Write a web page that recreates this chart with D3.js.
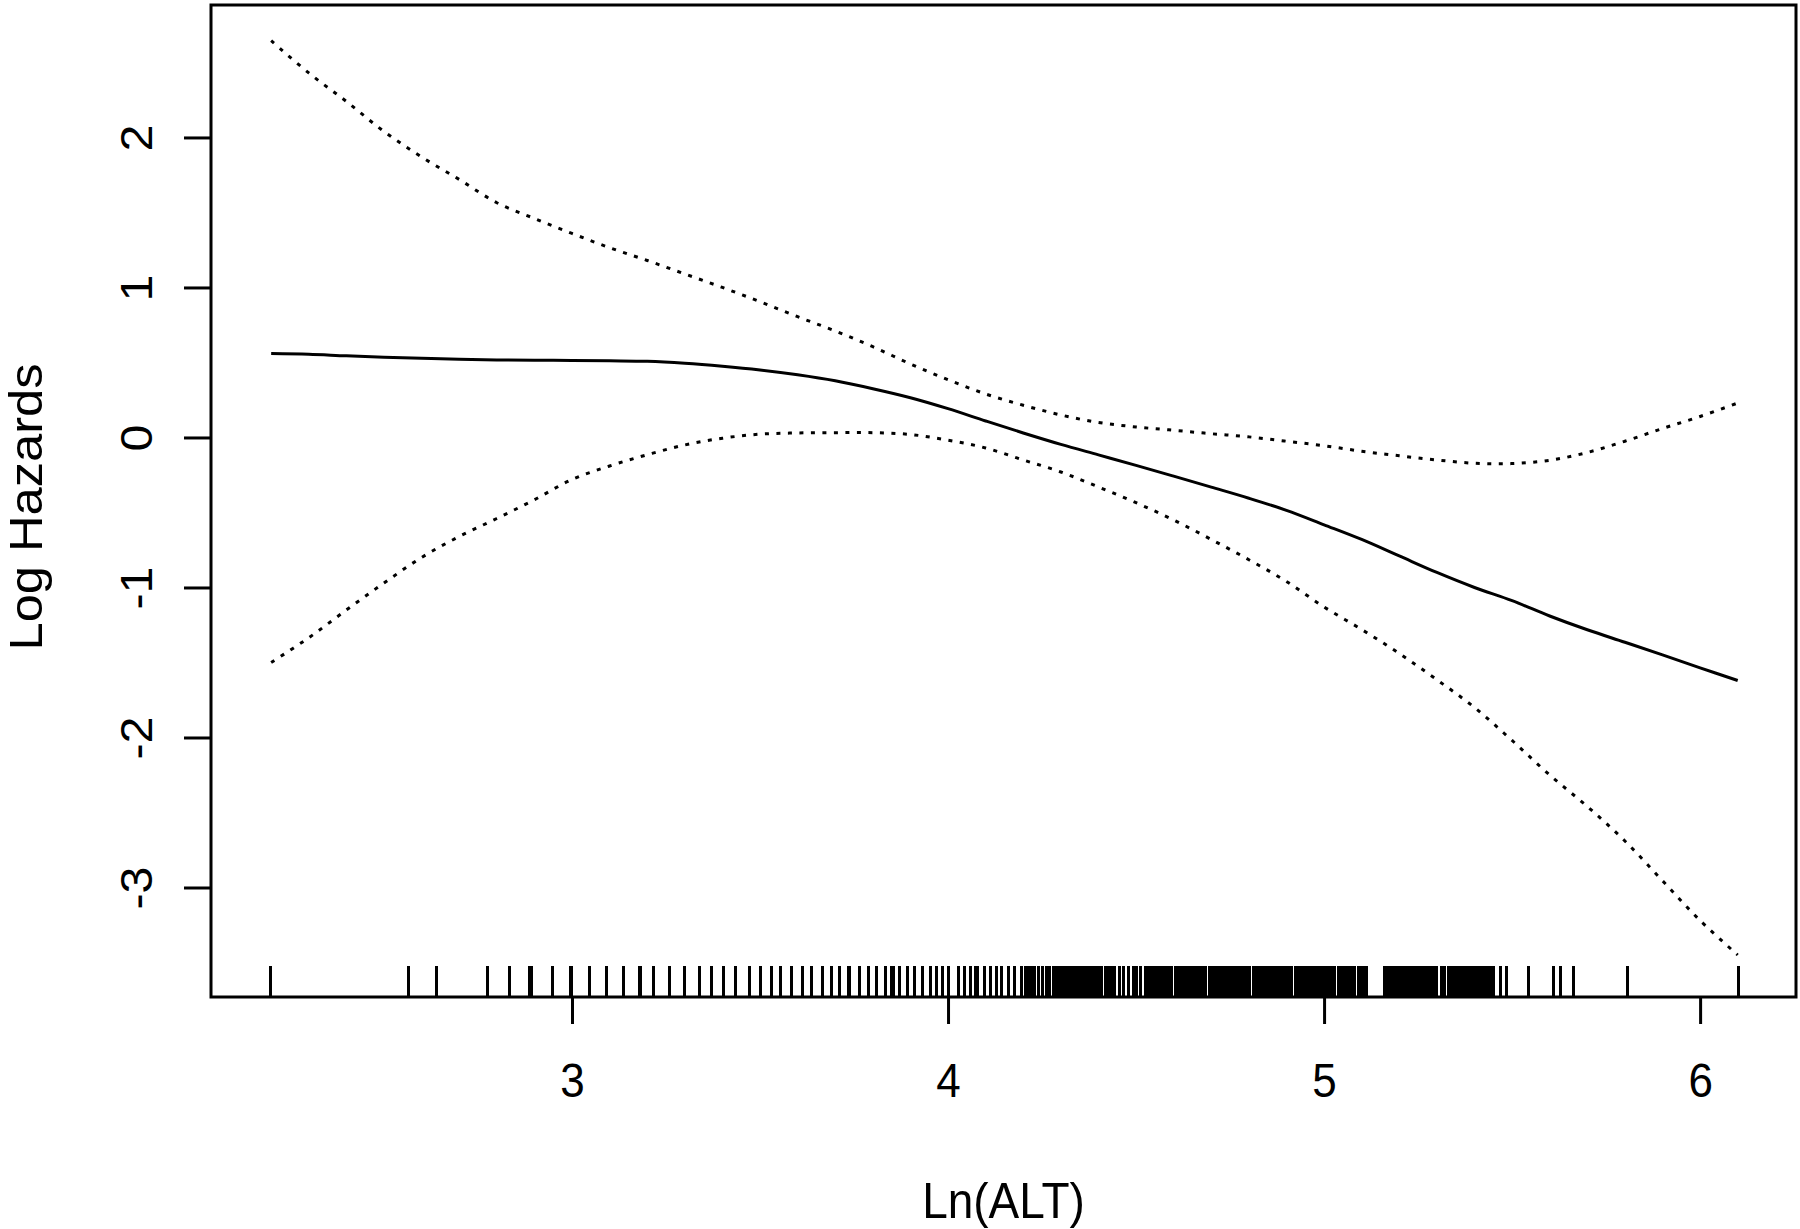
<!DOCTYPE html>
<html><head><meta charset="utf-8">
<script src="https://cdn.jsdelivr.net/npm/d3@7"></script>
<style>body{margin:0;background:#fff}</style>
</head><body><svg id="chart" width="1800" height="1229"></svg>
<script>
// ---- data ----
const xGrid = [2.2,2.3,2.4,2.5,2.6,2.7,2.8,2.9,3.0,3.1,3.2,3.3,3.4,3.5,3.6,3.7,3.8,3.9,4.0,4.1,4.2,4.3,4.4,4.5,4.6,4.7,4.8,4.9,5.0,5.1,5.2,5.3,5.4,5.5,5.6,5.7,5.8,5.9,6.0,6.1];
const fitValues = [0.56,0.555,0.544,0.535,0.528,0.521,0.517,0.515,0.513,0.511,0.508,0.495,0.475,0.45,0.418,0.378,0.325,0.265,0.192,0.11,0.03,-0.046,-0.116,-0.186,-0.258,-0.331,-0.405,-0.486,-0.582,-0.68,-0.79,-0.9,-1.0,-1.088,-1.19,-1.282,-1.365,-1.449,-1.536,-1.62];
const upperValues = [2.645,2.43,2.24,2.04,1.87,1.72,1.565,1.46,1.36,1.265,1.18,1.09,1.0,0.905,0.805,0.71,0.605,0.49,0.385,0.29,0.215,0.15,0.1,0.07,0.048,0.025,0.004,-0.025,-0.055,-0.092,-0.122,-0.15,-0.172,-0.174,-0.152,-0.10,-0.025,0.06,0.14,0.23];
const lowerValues = [-1.50,-1.335,-1.15,-0.97,-0.80,-0.66,-0.54,-0.415,-0.28,-0.19,-0.115,-0.05,-0.005,0.022,0.03,0.032,0.032,0.02,-0.018,-0.07,-0.15,-0.23,-0.33,-0.435,-0.55,-0.68,-0.815,-0.96,-1.13,-1.28,-1.44,-1.615,-1.80,-2.02,-2.25,-2.46,-2.69,-2.955,-3.22,-3.45];
const rugValues = [
2.199,2.565,2.639,2.776,2.835,2.888,2.891,2.949,2.997,3.000,3.046,3.092,3.138,3.179,3.182,3.218,3.259,3.299,3.340,
3.372,3.402,3.434,3.472,3.502,3.531,3.555,3.584,3.614,3.637,3.667,3.689,3.711,3.735,3.739,3.764,3.788,3.810,3.835,3.850,3.854,3.872,3.892,3.910,3.933,3.954,3.968,3.986,4.001,4.027,4.043,4.059,4.074,4.078,4.096,4.112,4.128,4.143,4.160,4.178,
4.196,4.205,4.214,4.223,4.231,4.240,4.252,4.261,4.269,4.280,4.287,
4.293,4.299,4.305,4.311,4.318,4.324,4.332,4.338,4.344,4.350,4.356,4.362,4.368,4.373,4.382,4.388,4.395,4.402,4.409,4.418,4.426,4.435,4.444,4.456,4.466,4.480,4.493,4.502,4.512,4.524,
4.530,4.536,4.542,4.548,4.554,4.560,4.566,4.572,4.577,4.586,4.595,4.604,
4.612,4.618,4.624,4.630,4.636,4.642,4.648,4.654,4.660,4.666,4.672,4.678,4.684,
4.695,4.701,4.707,4.713,4.719,4.725,4.732,
4.741,4.747,4.753,4.759,4.765,4.771,4.777,
4.785,4.791,4.797,4.803,
4.812,4.818,4.824,4.830,4.836,4.842,4.848,4.854,4.860,4.866,4.872,4.878,4.883,4.889,
4.895,4.901,4.908,4.913,4.923,4.929,4.934,4.940,4.947,4.952,
4.958,4.964,4.970,4.976,4.982,4.988,4.993,4.998,
5.007,5.013,5.019,5.025,5.029,5.038,5.043,5.049,5.055,5.061,5.065,5.074,5.082,5.091,5.097,5.104,5.112,5.114,
5.162,5.168,5.174,5.180,5.186,5.192,5.198,5.207,5.213,5.220,5.226,5.232,5.238,5.242,5.248,5.255,5.262,5.268,5.274,5.282,5.291,5.300,5.313,5.319,5.331,5.340,5.348,
5.353,5.359,5.365,5.371,5.377,5.383,5.389,5.397,5.406,5.412,5.418,5.424,5.433,5.439,5.445,5.450,
5.468,5.486,5.543,5.609,5.628,5.662,5.807,6.102];
const xTicks = [3,4,5,6];
const yTicks = [-3,-2,-1,0,1,2];
const xTitle = "Ln(ALT)";
const yTitle = "Log Hazards";

// ---- layout ----
const plot = {left:211, right:1796, top:5, bottom:997};
const font = "'Liberation Sans', Arial, Helvetica, sans-serif";
const svg = d3.select("#chart");

const x = d3.scaleLinear().domain([2.040, 6.255]).range([plot.left, plot.right]);
const y = d3.scaleLinear().domain([-3.730, 2.883]).range([plot.bottom, plot.top]);

// rug
svg.append("g").attr("shape-rendering","crispEdges").selectAll("line").data(rugValues).join("line")
  .attr("x1", d => x(d)).attr("x2", d => x(d))
  .attr("y1", plot.bottom).attr("y2", plot.bottom - 31)
  .attr("stroke", "#000").attr("stroke-width", 3);

// curves
const pts = vals => xGrid.map((v,i) => [v, vals[i]]);
const line = d3.line().x(d => x(d[0])).y(d => y(d[1])).curve(d3.curveCatmullRom);
svg.append("path").attr("d", line(pts(upperValues)))
  .attr("fill","none").attr("stroke","#000").attr("stroke-width",3).attr("stroke-dasharray","4 7.5");
svg.append("path").attr("d", line(pts(lowerValues)))
  .attr("fill","none").attr("stroke","#000").attr("stroke-width",3).attr("stroke-dasharray","4 7.5");
svg.append("path").attr("d", line(pts(fitValues)))
  .attr("fill","none").attr("stroke","#000").attr("stroke-width",3);

// box
svg.append("rect").attr("x",plot.left).attr("y",plot.top)
  .attr("width",plot.right-plot.left).attr("height",plot.bottom-plot.top)
  .attr("fill","none").attr("stroke","#000").attr("stroke-width",3);

// x axis
const gx = svg.append("g").attr("transform",`translate(0,${plot.bottom})`)
  .call(d3.axisBottom(x).tickValues(xTicks).tickSize(27).tickFormat(d => String(d)));
gx.select(".domain").remove();
gx.selectAll(".tick line").attr("stroke","#000").attr("stroke-width",3);
gx.selectAll(".tick text").attr("y",null).attr("dy",null)
  .attr("transform","translate(0,100) scale(1,1.1)")
  .attr("font-family",font).attr("font-size",44).attr("fill","#000");

// y axis
const gy = svg.append("g").attr("transform",`translate(${plot.left},0)`)
  .call(d3.axisLeft(y).tickValues(yTicks).tickSize(27).tickFormat(d => String(d)));
gy.select(".domain").remove();
gy.selectAll(".tick line").attr("stroke","#000").attr("stroke-width",3);
gy.selectAll(".tick text").attr("x",null).attr("dy",null)
  .attr("text-anchor","middle")
  .attr("transform","translate(-59,0) rotate(-90) scale(1.1,1)")
  .attr("font-family",font).attr("font-size",44).attr("fill","#000");

// titles
svg.append("text").text(xTitle)
  .attr("transform",`translate(${(plot.left+plot.right)/2},1218) scale(1,1.1)`)
  .attr("text-anchor","middle").attr("font-family",font).attr("font-size",46).attr("fill","#000");
svg.append("text").text(yTitle)
  .attr("transform",`translate(42,${(plot.top+plot.bottom)/2 + 6}) rotate(-90) scale(1.1,1)`)
  .attr("text-anchor","middle").attr("font-family",font).attr("font-size",46).attr("fill","#000");
</script>
</body></html>
